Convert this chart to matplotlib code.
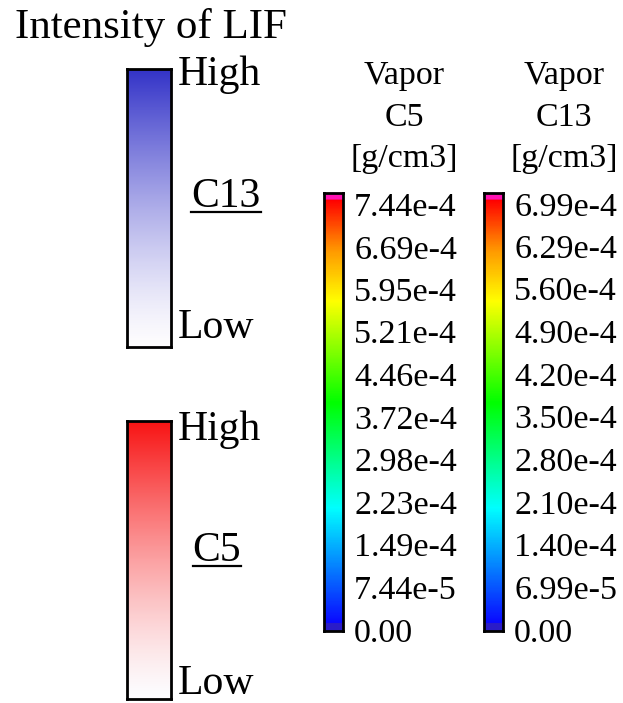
import numpy as np
import matplotlib
matplotlib.use('Agg')
import matplotlib.pyplot as plt
from matplotlib.colors import LinearSegmentedColormap, Normalize
from matplotlib.lines import Line2D

plt.rcParams['font.family'] = ['Liberation Serif', 'DejaVu Serif']

W, H = 623, 703

# LIF intensity legends
lif_title = 'Intensity of LIF'
lif_species = ['C13', 'C5']
lif_top_colors = ['#3333c8', '#f81414']
lif_high, lif_low = 'High', 'Low'

# vapor colorbars
vapor_headers = [['Vapor', 'C5', '[g/cm3]'], ['Vapor', 'C13', '[g/cm3]']]
c5_vmax = 7.44e-4
c5_ticks = [0, 7.44e-5, 1.49e-4, 2.23e-4, 2.98e-4, 3.72e-4, 4.46e-4,
            5.21e-4, 5.95e-4, 6.69e-4, 7.44e-4]
c5_labels = ['0.00', '7.44e-5', '1.49e-4', '2.23e-4', '2.98e-4', '3.72e-4',
             '4.46e-4', '5.21e-4', '5.95e-4', '6.69e-4', '7.44e-4']
c13_vmax = 6.99e-4
c13_ticks = [0, 6.99e-5, 1.40e-4, 2.10e-4, 2.80e-4, 3.50e-4, 4.20e-4,
             4.90e-4, 5.60e-4, 6.29e-4, 6.99e-4]
c13_labels = ['0.00', '6.99e-5', '1.40e-4', '2.10e-4', '2.80e-4', '3.50e-4',
              '4.20e-4', '4.90e-4', '5.60e-4', '6.29e-4', '6.99e-4']


def rect(x0, y0, x1, y1):
    # pixel box (top-left origin) -> figure fraction rect
    return [x0 / W, 1 - y1 / H, (x1 - x0) / W, (y1 - y0) / H]


def ftext(x, y, s, **kw):
    return fig.text(x / W, 1 - y / H, s, **kw)


fig = plt.figure(figsize=(W / 100, H / 100), dpi=100)

# ---- LIF bars ----
ftext(15, 38, lif_title, fontsize=31, va='baseline', ha='left')

lif_boxes = [(127, 69, 171, 347), (127, 421, 171, 699)]
lif_text_y = [(85, 338, 207), (440, 694, 561)]
grad = (np.linspace(0, 1, 256) ** 1.35).reshape(-1, 1)
underlined = []
for box, col, name, ty in zip(lif_boxes, lif_top_colors, lif_species, lif_text_y):
    ax = fig.add_axes(rect(*box))
    cmap = LinearSegmentedColormap.from_list('lif', ['#fdfcfe', col])
    ax.imshow(grad, cmap=cmap, aspect='auto', origin='lower', extent=[0, 1, 0, 1])
    ax.set_xticks([])
    ax.set_yticks([])
    for sp in ax.spines.values():
        sp.set_linewidth(2)
    ftext(178, ty[0], lif_high, fontsize=30, va='baseline', ha='left')
    ftext(178, ty[1], lif_low, fontsize=30, va='baseline', ha='left')
    t = ftext(226 if name == 'C13' else 217, ty[2], name,
              fontsize=30, va='baseline', ha='center')
    underlined.append((t, ty[2] + 5))

# ---- vapor colorbars ----
rainbow = LinearSegmentedColormap.from_list(
    'rb', [(0.0, '#0a0aff'), (0.27, '#00ffff'), (0.52, '#00ff00'),
           (0.76, '#ffff00'), (0.88, '#ff9900'), (1.0, '#ff0000')])
rainbow.set_under('#2a1cc8')
rainbow.set_over('#ff14b4')

bar_boxes = [(324, 193, 343, 631), (484, 193, 503, 631)]
header_x = [404, 564]
for box, hx, hdr, vmax, ticks, labels in zip(
        bar_boxes, header_x, vapor_headers, [c5_vmax, c13_vmax],
        [c5_ticks, c13_ticks], [c5_labels, c13_labels]):
    for line, by in zip(hdr, [84, 126, 167]):
        ftext(hx, by, line, fontsize=24.5, ha='center', va='baseline')
    ax = fig.add_axes(rect(*box))
    lo = -0.0023 * vmax
    hi = 1.0258 * vmax
    vals = np.linspace(lo, hi, 600).reshape(-1, 1)
    ax.imshow(vals, cmap=rainbow, norm=Normalize(0.016 * vmax, 1.012 * vmax),
              aspect='auto', origin='lower', extent=[0, 1, lo, hi])
    ax.set_ylim(lo, hi)
    ax.set_xticks([])
    ax.yaxis.tick_right()
    ax.set_yticks(ticks)
    ax.set_yticklabels(labels)
    ax.tick_params(axis='y', length=0, pad=8, labelsize=24.5)
    for sp in ax.spines.values():
        sp.set_linewidth(2)

# underline the species names
fig.canvas.draw()
renderer = fig.canvas.get_renderer()
for t, uy in underlined:
    bb = t.get_window_extent(renderer)
    yf = 1 - uy / H
    fig.add_artist(Line2D([bb.x0 / W, bb.x1 / W], [yf, yf], color='black',
                          lw=1.6, transform=fig.transFigure))

fig.savefig('out.png', dpi=100)
